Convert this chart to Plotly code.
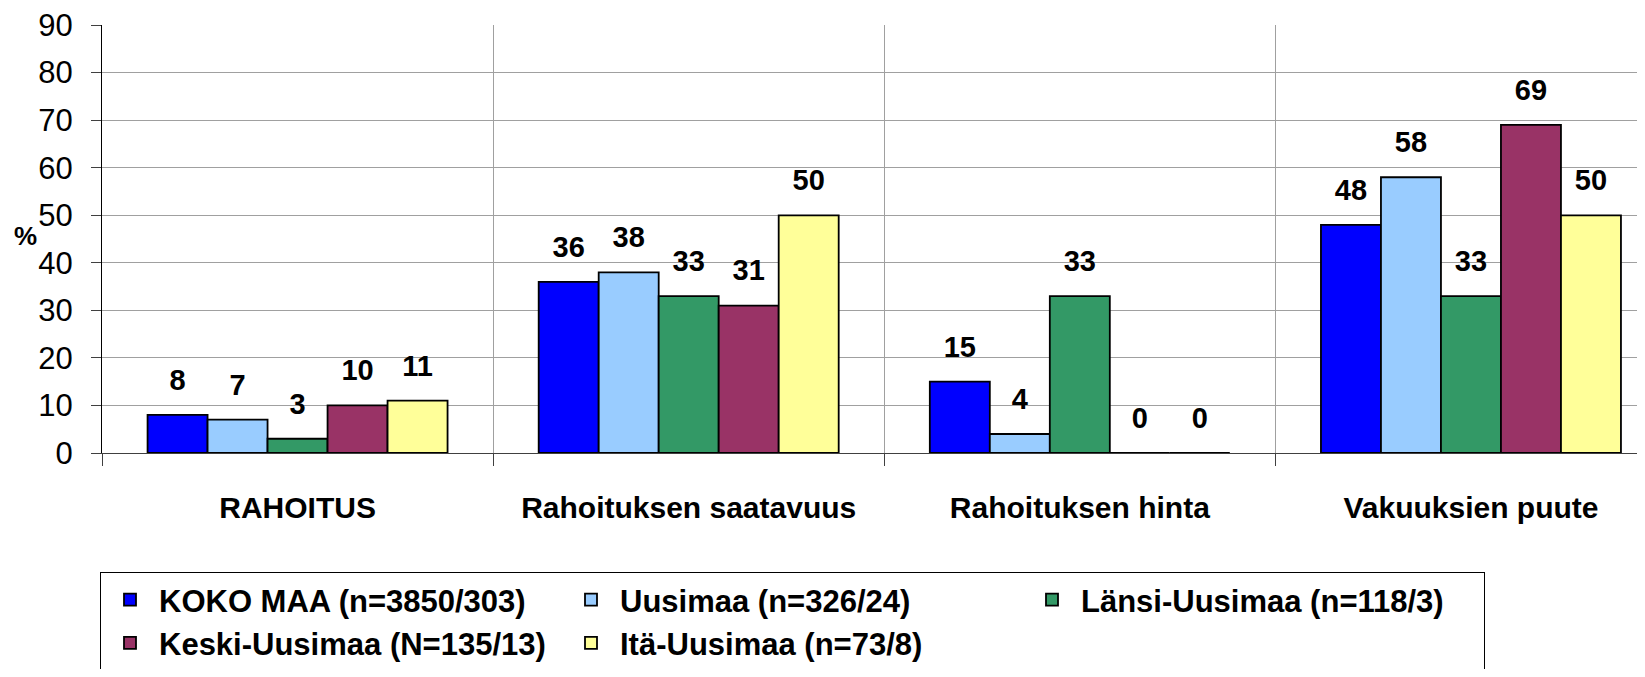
import plotly.graph_objects as go

categories = ["RAHOITUS", "Rahoituksen saatavuus", "Rahoituksen hinta", "Vakuuksien puute"]
series_names = [
    "KOKO MAA (n=3850/303)",
    "Uusimaa (n=326/24)",
    "Länsi-Uusimaa (n=118/3)",
    "Keski-Uusimaa (N=135/13)",
    "Itä-Uusimaa (n=73/8)",
]
koko_maa = [8, 36, 15, 48]
uusimaa = [7, 38, 4, 58]
lansi_uusimaa = [3, 33, 33, 33]
keski_uusimaa = [10, 31, 0, 69]
ita_uusimaa = [11, 50, 0, 50]
series_values = [koko_maa, uusimaa, lansi_uusimaa, keski_uusimaa, ita_uusimaa]
colors = ["#0000FF", "#99CCFF", "#339966", "#993366", "#FFFF99"]

FONT = "Liberation Sans, Arial, sans-serif"

# page body has an 8px margin; figure sized to fit the 1645x677 window
W, H = 1637, 661
BODY = 8

fig = go.Figure()
for i, (name, vals, col) in enumerate(zip(series_names, series_values, colors)):
    fig.add_trace(go.Bar(
        x=categories, y=vals, name=name,
        offsetgroup=str(i),
        marker=dict(color=col, line=dict(color="black", width=1.8)),
        hoverinfo="x+y+name",
    ))
for i, (name, vals) in enumerate(zip(series_names, series_values)):
    fig.add_trace(go.Scatter(
        x=categories, y=vals, name=name,
        offsetgroup=str(i),
        mode="markers+text",
        text=[str(v) for v in vals],
        textposition="top center",
        marker=dict(size=27, color="rgba(0,0,0,0)", line=dict(width=0)),
        textfont=dict(family=FONT, size=29, color="black", weight="bold"),
        showlegend=False, hoverinfo="skip", cliponaxis=False,
    ))

fig.update_layout(
    width=W, height=H,
    margin=dict(l=102 - BODY, r=0, t=25 - BODY, b=H - (453 - BODY)),
    paper_bgcolor="white", plot_bgcolor="white",
    barmode="group", bargap=0.233, bargroupgap=0,
    scattermode="group", scattergap=0.233,
    font=dict(family=FONT, color="black"),
    showlegend=True,
    legend=dict(
        orientation="h",
        xref="container", yref="container",
        x=(100 - BODY) / W, y=1 - (572 - BODY) / H,
        xanchor="left", yanchor="top",
        entrywidth=398, entrywidthmode="pixels",
        bordercolor="black", borderwidth=1, bgcolor="white",
        font=dict(family=FONT, size=31, color="black", weight="bold"),
        itemwidth=48,
        traceorder="normal",
    ),
    xaxis=dict(
        range=[-0.5, 3.445],
        tickson="boundaries",
        showgrid=True, gridcolor="#A0A0A0", gridwidth=1,
        ticks="outside", ticklen=12, tickcolor="#404040",
        showline=True, linecolor="#404040", linewidth=1,
        tickfont=dict(family=FONT, size=30, color="black", weight="bold"),
        ticklabelstandoff=28,
        fixedrange=True,
    ),
    yaxis=dict(
        range=[0, 90.02],
        tickmode="array",
        tickvals=list(range(0, 91, 10)),
        showgrid=True, gridcolor="#A0A0A0", gridwidth=1,
        ticks="outside", ticklen=10, tickcolor="#404040",
        showline=True, linecolor="black", linewidth=1,
        tickfont=dict(family=FONT, size=31, color="black"),
        ticklabelstandoff=12,
        ticklabeloverflow="allow",
        zeroline=False,
    ),
    annotations=[dict(
        text="%", xref="paper", yref="paper",
        x=(25 - 102) / 1543, y=(453 - 236) / 428,
        xanchor="center", yanchor="middle", showarrow=False,
        font=dict(family=FONT, size=26, color="black", weight="bold"),
    )],
)

fig.write_html("out.html")
